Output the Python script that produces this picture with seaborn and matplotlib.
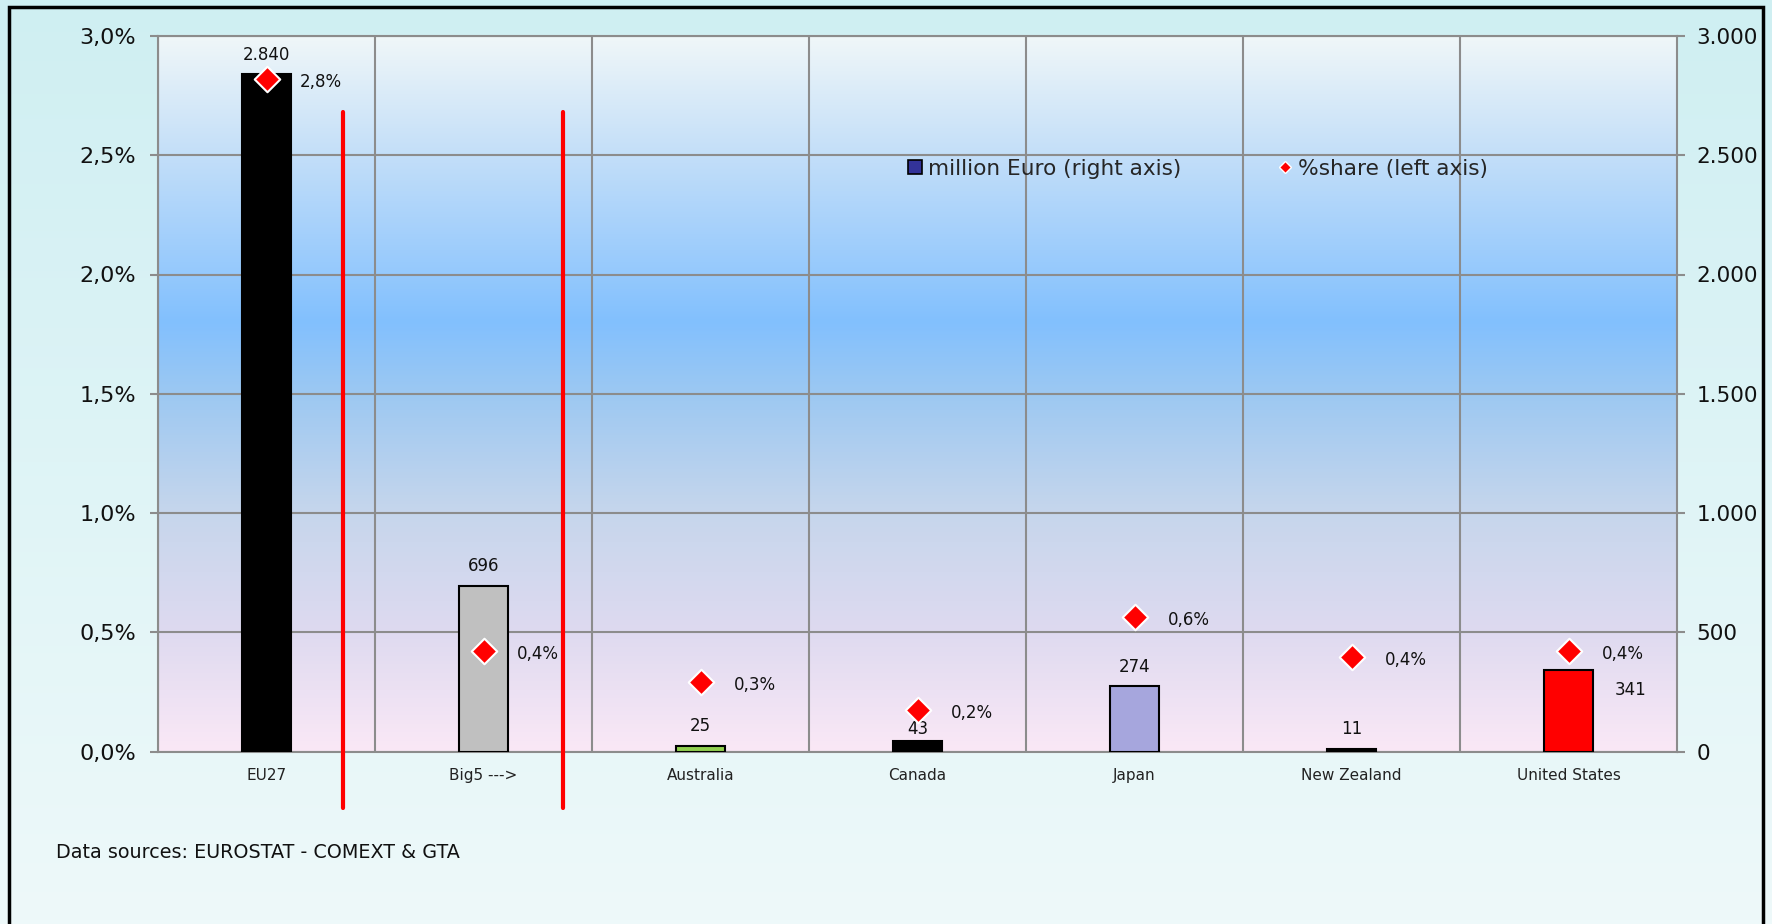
import numpy as np
import matplotlib
matplotlib.use("Agg")
import matplotlib.pyplot as plt
import seaborn as sns
from matplotlib.colors import LinearSegmentedColormap
from matplotlib.lines import Line2D
from matplotlib.patches import Rectangle
from matplotlib.ticker import FuncFormatter, MultipleLocator

# data
countries = ["EU27", "Big5 --->", "Australia", "Canada", "Japan", "New Zealand", "United States"]
million_eur = [2840, 696, 25, 43, 274, 11, 341]
share_pct = [2.82, 0.42, 0.29, 0.175, 0.565, 0.395, 0.42]
bar_colors = ["#000000", "#c0c0c0", "#92d050", "#000000", "#a6a6dd", "#000000", "#ff0000"]
separators = [0.354, 1.365]

sns.set_style("white")
plt.rcParams["font.family"] = ["DejaVu Sans"]

fig = plt.figure(figsize=(17.72, 9.24), dpi=100)

# figure background gradient
bgf = fig.add_axes([0, 0, 1, 1], zorder=-2)
cm_fig = LinearSegmentedColormap.from_list("fig", ["#cfeff2", "#eef9fa"])
bgf.imshow(np.linspace(0, 1, 256).reshape(-1, 1), cmap=cm_fig, aspect="auto", extent=[0, 1, 0, 1])
bgf.set_axis_off()

pos = [158 / 1772, 1 - 751.5 / 924, (1677 - 158) / 1772, (751.5 - 36) / 924]

# plot area gradient
bgp = fig.add_axes(pos, zorder=-1)
cm_plot = LinearSegmentedColormap.from_list("plot", [
    (0.0, "#f0f7f8"), (0.17, "#c2def9"), (0.4, "#82c0fe"), (0.5, "#9cc8f2"),
    (0.667, "#c6d6ec"), (0.833, "#dedaf0"), (1.0, "#fae8f6")])
bgp.imshow(np.linspace(0, 1, 256).reshape(-1, 1), cmap=cm_plot, aspect="auto", extent=[0, 1, 0, 1])
bgp.set_axis_off()

ax = fig.add_axes(pos)
ax.patch.set_visible(False)

sns.barplot(x=countries, y=million_eur, hue=countries, palette=bar_colors, legend=False,
            width=0.23, edgecolor="black", linewidth=1.5, saturation=1, ax=ax, zorder=3)

# share markers on left axis (twin)
ax2 = ax.twinx()
sns.stripplot(x=countries, y=share_pct, jitter=False, marker="D", size=13, color="#ff0000",
              edgecolor="white", linewidth=1.5, ax=ax2, zorder=5)

grid_c = "#8c8c8c"

# right axis: million euro
ax.set_ylim(0, 3000)
ax.set_xlim(-0.5, len(countries) - 0.5)
ax.yaxis.tick_right()
ax.yaxis.set_label_position("right")
ax.yaxis.set_major_locator(MultipleLocator(500))
ax.yaxis.set_major_formatter(FuncFormatter(lambda v, p: f"{int(v):,}".replace(",", ".")))
ax.set_xlabel("")
ax.set_ylabel("")
ax.set_axisbelow(True)
ax.yaxis.grid(True, color=grid_c, lw=1.5)
ax.set_xticks(np.arange(len(countries)) - 0.5, minor=True)
ax.xaxis.grid(True, which="minor", color=grid_c, lw=1.5)
ax.xaxis.grid(False, which="major")
ax.tick_params(axis="x", which="major", length=0, pad=12, labelsize=11, labelcolor="#222222")
ax.tick_params(axis="x", which="minor", length=6, width=1.5, color=grid_c, direction="out")
ax.tick_params(axis="y", length=6, width=1.5, color=grid_c, direction="out", right=True,
               left=False, labelright=True, labelleft=False, pad=8, labelsize=15.5,
               labelcolor="#111111")
for s in ax.spines.values():
    s.set_color(grid_c)
    s.set_linewidth(1.5)

# left axis: share
ax2.set_ylim(0, 3.0)
ax2.set_xlim(-0.5, len(countries) - 0.5)
ax2.yaxis.tick_left()
ax2.yaxis.set_label_position("left")
ax2.yaxis.set_major_locator(MultipleLocator(0.5))
ax2.yaxis.set_major_formatter(FuncFormatter(lambda v, p: f"{v:.1f}%".replace(".", ",")))
ax2.tick_params(axis="y", length=6, width=1.5, color=grid_c, direction="out", left=True,
                right=False, labelleft=True, labelright=False, pad=10, labelsize=16,
                labelcolor="#111111")
ax2.tick_params(axis="x", which="both", length=0, labelbottom=False)
ax2.set_xlabel("")
ax2.set_ylabel("")
for s in ax2.spines.values():
    s.set_visible(False)

# bar value labels
bar_offsets = [(0, 14), (0, 14), (0, 14), (0, 9), (0, 14), (0, 14), (45, -14)]
for i, (v, off) in enumerate(zip(million_eur, bar_offsets)):
    ax.annotate(f"{v:,}".replace(",", "."), (i, v), xytext=off, textcoords="offset points",
                ha="center", va="center", fontsize=12, color="#111111", zorder=6)

for i, v in enumerate(share_pct):
    ax2.annotate(f"{v:.1f}%".replace(".", ","), (i, v), xytext=(24, -2), textcoords="offset points",
                 ha="left", va="center", fontsize=12, color="#111111")

# red separator lines
for xs in separators:
    ax2.plot([xs, xs], [2.68, -0.237], color="#ff0000", lw=3, clip_on=False, zorder=4)

# legend
handles = [
    Line2D([], [], marker="s", linestyle="none", markersize=10, markerfacecolor="#333399",
           markeredgecolor="black", markeredgewidth=1.2),
    Line2D([], [], marker="D", linestyle="none", markersize=6, markerfacecolor="#ff0000",
           markeredgecolor="white", markeredgewidth=1),
]
fig.legend(handles, ["million Euro (right axis)", "%share (left axis)"], ncol=2,
           loc="center left", bbox_to_anchor=(895 / 1772, 1 - 169 / 924), frameon=False,
           fontsize=15.6, handlelength=0.8, handletextpad=0.2, columnspacing=4.4, borderpad=0)

fig.text(56 / 1772, 1 - 853 / 924, "Data sources: EUROSTAT - COMEXT & GTA", fontsize=13.8,
         color="#111111", va="center", ha="left")

# outer frame
fig.patches.append(Rectangle((9 / 1772, -0.02), (1763 - 9) / 1772, 1.02 - 7 / 924,
                             transform=fig.transFigure, fill=False, lw=2.5, ec="black"))

plt.savefig("out.png", dpi=100)
